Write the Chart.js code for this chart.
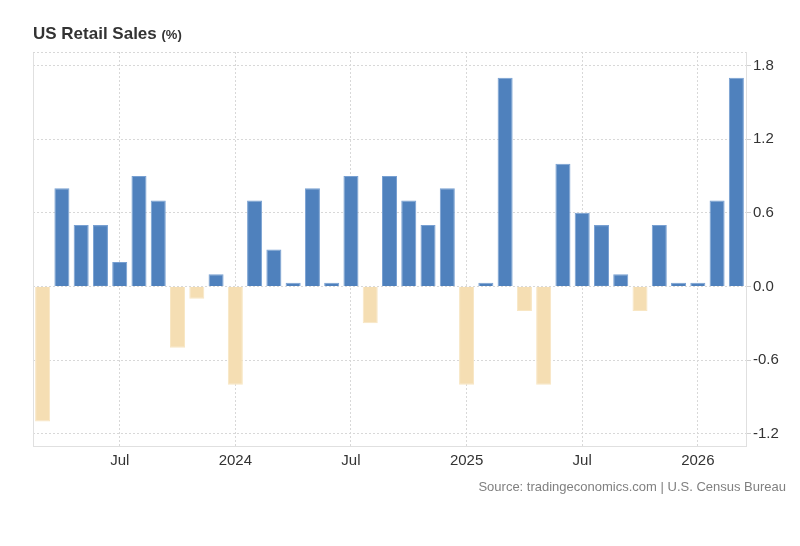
<!DOCTYPE html>
<html>
<head>
<meta charset="utf-8">
<script src="https://cdn.jsdelivr.net/npm/chart.js@4.4.1/dist/chart.umd.min.js"></script>
<style>
  body { margin: 0; background: #fff; font-family: "Liberation Sans", Arial, sans-serif; }
  #wrap { position: relative; width: 800px; height: 546px; }
  #grafico { position: absolute; left: 0; top: 0; }
  .titulo { position: absolute; left: 33px; top: 24px; font-size: 17px; font-weight: bold; color: #333; }
  .titulo small { font-size: 13px; }
  .fonte { position: absolute; right: 14px; top: 479px; font-size: 13px; color: #808080; }
</style>
</head>
<body>
<div id="wrap">
  <canvas id="grafico" width="800" height="546"></canvas>
  <div class="titulo">US Retail Sales <small>(%)</small></div>
  <div class="fonte">Source: tradingeconomics.com | U.S. Census Bureau</div>
</div>
<script>
// meses (ano-mes) e variacao mensal das vendas
const meses = [
  '2023-03', '2023-04', '2023-05', '2023-06', '2023-07', '2023-08', '2023-09', '2023-10', '2023-11', '2023-12',
  '2024-01', '2024-02', '2024-03', '2024-04', '2024-05', '2024-06', '2024-07', '2024-08', '2024-09', '2024-10', '2024-11', '2024-12',
  '2025-01', '2025-02', '2025-03', '2025-04', '2025-05', '2025-06', '2025-07', '2025-08', '2025-09', '2025-10', '2025-11', '2025-12',
  '2026-01', '2026-02', '2026-03'
];
const vendas = [
  -1.1, 0.8, 0.5, 0.5, 0.2, 0.9, 0.7, -0.5, -0.1, 0.1,
  -0.8, 0.7, 0.3, 0.03, 0.8, 0.03, 0.9, -0.3, 0.9, 0.7, 0.5, 0.8,
  -0.8, 0.03, 1.7, -0.2, -0.8, 1.0, 0.6, 0.5, 0.1, -0.2, 0.5, 0.03,
  0.03, 0.7, 1.7
];
const ticksY = [-1.2, -0.6, 0, 0.6, 1.2, 1.8];
const yMin = -1.3;
const yMax = 1.91;

const azul = 'rgb(79, 129, 189)';
const bege = 'rgb(245, 222, 179)';

function rotuloMes(m) {
  const [ano, mes] = m.split('-');
  if (mes === '01') return ano;
  if (mes === '07') return 'Jul';
  return '';
}

// linha da esquerda e linha pontilhada do topo
const bordas = {
  id: 'bordas',
  beforeDatasetsDraw(chart) {
    const { ctx, chartArea } = chart;
    ctx.save();
    ctx.strokeStyle = '#e0e0e0';
    ctx.lineWidth = 1;
    ctx.beginPath();
    ctx.moveTo(chartArea.left + 0.5, chartArea.top);
    ctx.lineTo(chartArea.left + 0.5, chartArea.bottom);
    ctx.stroke();
    ctx.setLineDash([2, 2]);
    ctx.strokeStyle = '#d8d8d8';
    ctx.beginPath();
    ctx.moveTo(chartArea.left, chartArea.top + 0.5);
    ctx.lineTo(chartArea.right, chartArea.top + 0.5);
    ctx.stroke();
    ctx.restore();
  }
};

const ctx = document.getElementById('grafico');

new Chart(ctx, {
  type: 'bar',
  data: {
    labels: meses,
    datasets: [{
      label: 'US Retail Sales',
      data: vendas,
      backgroundColor: vendas.map(v => v < 0 ? bege : azul),
      borderColor: vendas.map(v => v < 0 ? 'rgb(248, 230, 195)' : 'rgb(120, 160, 210)'),
      borderWidth: 1,
      barPercentage: 0.78,
      categoryPercentage: 1
    }]
  },
  options: {
    responsive: false,
    animation: false,
    layout: { padding: { left: 33, right: 0, top: 52, bottom: 0 } },
    plugins: {
      legend: { display: false },
      tooltip: { enabled: false }
    },
    scales: {
      x: {
        offset: true,
        grid: {
          offset: false,
          drawTicks: false,
          color: c => (c.tick && rotuloMes(meses[c.index]) !== '') ? '#d8d8d8' : 'transparent',
          lineWidth: 1
        },
        border: { display: true, color: '#e0e0e0', dash: [2, 2] },
        ticks: {
          autoSkip: false,
          maxRotation: 0,
          padding: 6,
          color: '#333',
          font: { family: '"Liberation Sans", Arial, sans-serif', size: 15 },
          callback: (val, i) => rotuloMes(meses[i])
        },
        afterFit: s => { s.height = 100; }
      },
      y: {
        position: 'right',
        min: yMin,
        max: yMax,
        afterBuildTicks: s => { s.ticks = ticksY.map(v => ({ value: v })); },
        grid: {
          color: '#d8d8d8',
          tickColor: '#d0d0d0',
          tickLength: 5,
          tickBorderDash: [],
          drawTicks: true
        },
        border: { display: true, color: '#e0e0e0', dash: [2, 2] },
        ticks: {
          padding: 2,
          color: '#333',
          font: { family: '"Liberation Sans", Arial, sans-serif', size: 15 },
          callback: v => v.toFixed(1)
        },
        afterFit: s => { s.width = 54; }
      }
    }
  },
  plugins: [bordas]
});
</script>
</body>
</html>
